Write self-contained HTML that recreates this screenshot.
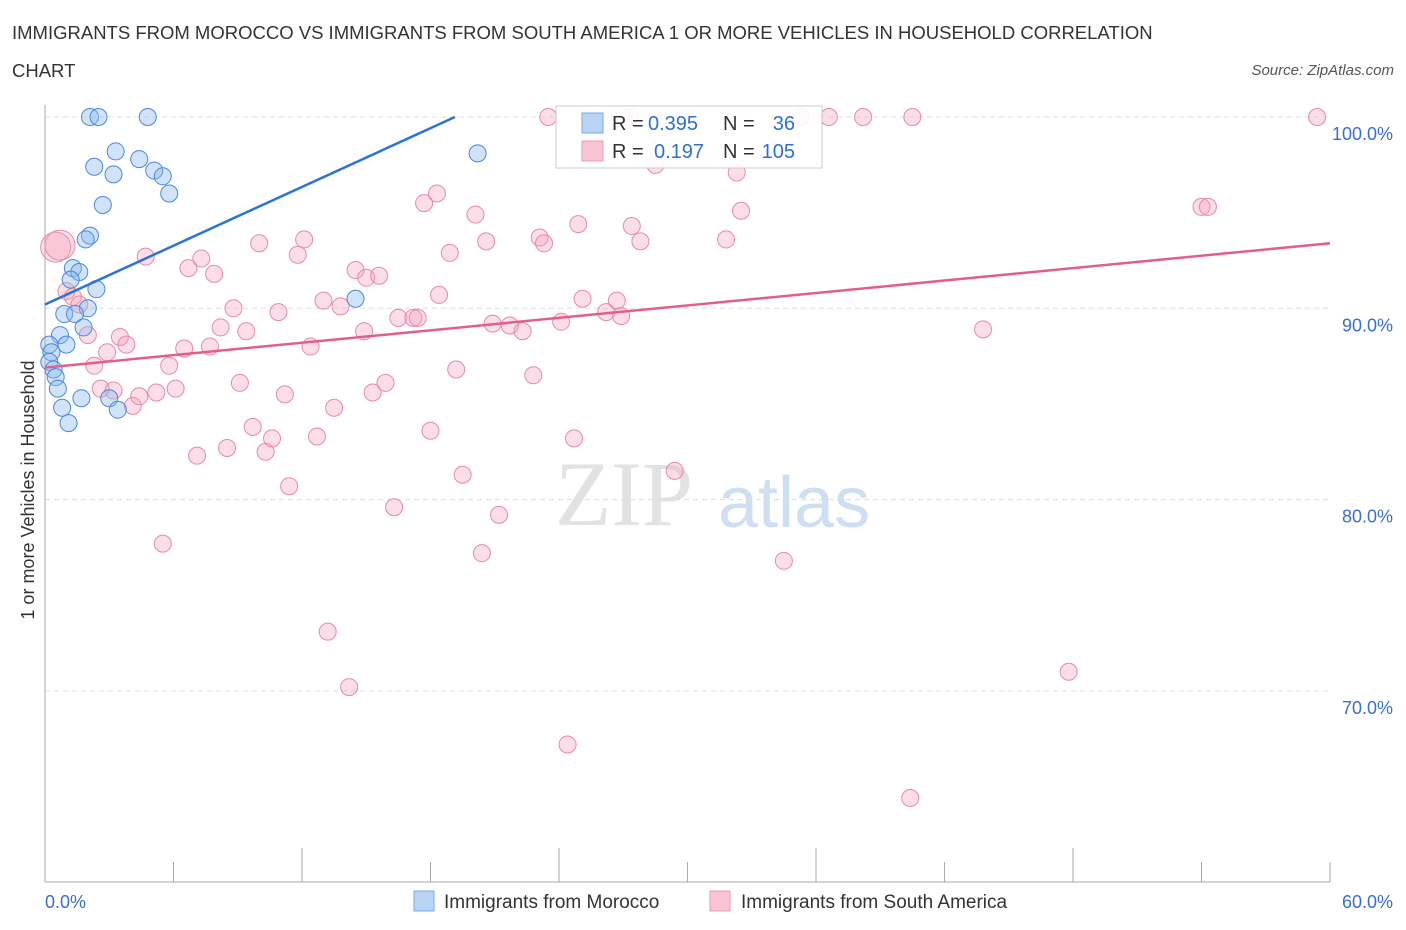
<!DOCTYPE html>
<html><head><meta charset="utf-8">
<style>
body{margin:0;background:#fff;font-family:"Liberation Sans",sans-serif;}
#wrap{position:relative;width:1406px;height:930px;overflow:hidden;}
.title{position:absolute;left:12px;top:14px;font-size:18.5px;color:#333;line-height:38px;width:1170px;}
.source{position:absolute;right:12px;top:62px;font-size:15px;color:#555;font-style:italic;}
svg{position:absolute;left:0;top:0;}
</style></head>
<body>
<div id="wrap">
<div class="title">IMMIGRANTS FROM MOROCCO VS IMMIGRANTS FROM SOUTH AMERICA 1 OR MORE VEHICLES IN HOUSEHOLD CORRELATION CHART</div>
<div class="source">Source: ZipAtlas.com</div>
<svg id="svg" width="1406" height="930"></svg>
</div>
<script>
const blueX=[2.1,2.5,4.8,20.2,3.3,4.4,2.3,3.2,5.1,5.5,5.8,2.7,2.1,1.9,1.3,1.6,1.2,2.4,14.5,2.0,0.9,1.4,1.8,0.7,1.0,0.2,0.3,0.2,0.4,0.5,0.6,1.7,3.0,3.4,0.8,1.1];
const blueY=[100,100,100,98.1,98.2,97.8,97.4,97.0,97.2,96.9,96.0,95.4,93.8,93.6,92.1,91.9,91.5,91.0,90.5,90.0,89.7,89.7,89.0,88.6,88.1,88.1,87.7,87.2,86.8,86.4,85.8,85.3,85.3,84.7,84.8,84.0];
const pinkX=[0.5,0.7,1.0,1.3,1.6,2.0,2.3,2.6,2.9,3.2,3.5,3.8,4.1,4.4,4.7,5.2,5.5,5.8,6.1,6.5,6.7,7.1,7.3,7.7,7.9,8.2,8.5,8.8,9.1,9.4,9.7,10.0,10.3,10.6,10.9,11.2,11.4,11.8,12.1,12.4,12.7,13.0,13.2,13.5,13.8,14.2,14.5,14.9,15.0,15.3,15.6,15.9,16.3,16.5,17.2,17.4,17.7,18.0,18.3,18.4,18.9,19.2,19.5,20.1,20.4,20.6,20.9,21.2,21.7,22.3,22.8,23.1,23.3,23.5,24.1,24.4,24.7,24.9,25.1,26.2,26.7,26.9,27.4,27.8,28.5,29.4,31.8,32.3,32.5,34.5,35.3,36.6,38.2,40.4,40.5,43.8,47.8,54.0,54.3,59.4,27.3];
const pinkY=[93.2,93.3,90.9,90.6,90.2,88.6,87.0,85.8,87.7,85.7,88.5,88.1,84.9,85.4,92.7,85.6,77.7,87.0,85.8,87.9,92.1,82.3,92.6,88.0,91.8,89.0,82.7,90.0,86.1,88.8,83.8,93.4,82.5,83.2,89.8,85.5,80.7,92.8,93.6,88.0,83.3,90.4,73.1,84.8,90.1,70.2,92.0,88.8,91.6,85.6,91.7,86.1,79.6,89.5,89.5,89.5,95.5,83.6,96.0,90.7,92.9,86.8,81.3,94.9,77.2,93.5,89.2,79.2,89.1,88.8,86.5,93.7,93.4,100,89.3,67.2,83.2,94.4,90.5,89.8,90.4,89.6,94.3,93.5,97.5,81.5,93.6,97.1,95.1,76.8,100,100,100,64.4,100,88.9,71.0,95.3,95.3,100,100];
const blueLine=[[0,90.2],[19.14,100]];
const pinkLine=[[0,86.9],[60,93.4]];
const yTicks=[100,90,80,70];
const yTickLabels=["100.0%","90.0%","80.0%","70.0%"];
const xTicks=[0,6,12,18,24,30,36,42,48,54,60];

const NS="http://www.w3.org/2000/svg",svg=document.getElementById('svg');
const X=v=>45+(v/60)*1285, Y=v=>117+(100-v)*19.13;
function mk(t,a,p){const e=document.createElementNS(NS,t);for(const k in a)e.setAttribute(k,a[k]);(p||svg).appendChild(e);return e;}
let w=mk('text',{x:555,y:525,'font-size':92,fill:'#e2e2e2','font-family':'Liberation Serif, serif'});w.textContent='ZIP';

w=mk('text',{x:718,y:527,'font-size':72,fill:'#cfdff3','font-family':'Liberation Sans, sans-serif'});w.textContent='atlas';

yTicks.forEach((t,i)=>{
 const g=mk('line',{x1:45,x2:1330,y1:Y(t),y2:Y(t),stroke:'#ddd','stroke-dasharray':'5,4'});
 
 const l=mk('text',{x:1393,y:Y(t)+23,'font-size':18,fill:'#3a6fcf','text-anchor':'end'});l.textContent=yTickLabels[i];
 
});
let ax=mk('line',{x1:45,x2:45,y1:105,y2:882,stroke:'#aaa'});

ax=mk('line',{x1:45,x2:1330,y1:882,y2:882,stroke:'#aaa'});

xTicks.forEach(t=>{const k=mk('line',{x1:X(t),x2:X(t),y1:t%12==0&&t!=0&&t!=60?848:862,y2:882,stroke:'#aaa'});
 });
let xl=mk('text',{x:45,y:908,'font-size':18,fill:'#3a6fcf'});xl.textContent='0.0%';

xl=mk('text',{x:1393,y:908,'font-size':18,fill:'#3a6fcf','text-anchor':'end'});xl.textContent='60.0%';

let yt=mk('text',{x:0,y:0,'font-size':18,fill:'#333','text-anchor':'middle',transform:'translate(34,490) rotate(-90)'});yt.textContent='1 or more Vehicles in Household';

pinkX.forEach((v,i)=>{const big=i<2;const c=mk('circle',{cx:X(v),cy:Y(pinkY[i]),r:big?15:8.5,fill:'rgba(244,160,185,0.35)',stroke:'#e88aa6','stroke-width':1});
 });
blueX.forEach((v,i)=>{const c=mk('circle',{cx:X(v),cy:Y(blueY[i]),r:8.5,fill:'rgba(140,185,240,0.4)',stroke:'#4a88dc','stroke-width':1});
 });
let tl=mk('line',{x1:X(blueLine[0][0]),y1:Y(blueLine[0][1]),x2:X(blueLine[1][0]),y2:Y(blueLine[1][1]),stroke:'#2a74d6','stroke-width':2.5});

tl=mk('line',{x1:X(pinkLine[0][0]),y1:Y(pinkLine[0][1]),x2:X(pinkLine[1][0]),y2:Y(pinkLine[1][1]),stroke:'#e0608a','stroke-width':2.5});

const lg=mk('g',{});
mk('rect',{x:556,y:106,width:266,height:62,fill:'rgba(255,255,255,0.9)',stroke:'#ccc'},lg);
mk('rect',{x:582,y:113,width:21,height:20,fill:'#b9d3f5',stroke:'#7aa8e6'},lg);
mk('rect',{x:582,y:141,width:21,height:20,fill:'#f8c4d4',stroke:'#ec9ab3'},lg);
function tx(x,y,s,c,p,a){const t=mk('text',{x:x,y:y,'font-size':20,fill:c,'text-anchor':a||'start'},p);t.textContent=s;return t;}
tx(612,130,'R = ','#333',lg);tx(648,130,'0.395','#2e6fd0',lg);tx(723,130,'N = ','#333',lg);tx(795,130,'36','#2e6fd0',lg,'end');
tx(612,158,'R = ','#333',lg);tx(654,158,'0.197','#2e6fd0',lg);tx(723,158,'N = ','#333',lg);tx(795,158,'105','#2e6fd0',lg,'end');
const bl=mk('g',{});
mk('rect',{x:414,y:891,width:20,height:20,fill:'#b9d3f5',stroke:'#7aa8e6'},bl);
tx(444,908,'Immigrants from Morocco','#333',bl).setAttribute('font-size',19);
mk('rect',{x:710,y:891,width:20,height:20,fill:'#f8c4d4',stroke:'#ec9ab3'},bl);
tx(741,908,'Immigrants from South America','#333',bl).setAttribute('font-size',19);
</script>
</body></html>
